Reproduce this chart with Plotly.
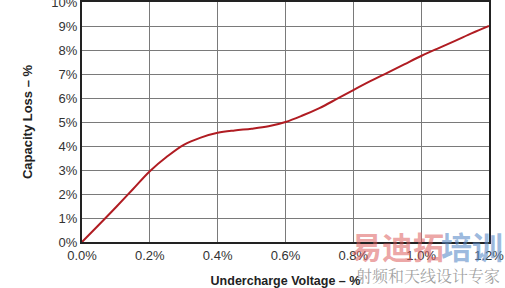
import plotly.graph_objects as go

# Data (percent units)
voltage = [0.0, 0.05, 0.1, 0.15, 0.2, 0.25, 0.3, 0.35, 0.4, 0.45, 0.5, 0.55, 0.6,
           0.65, 0.7, 0.75, 0.8, 0.85, 0.9, 0.95, 1.0, 1.05, 1.1, 1.15, 1.2]
capacity_loss = [0.0, 0.72, 1.45, 2.2, 2.95, 3.55, 4.05, 4.35, 4.55, 4.65, 4.72, 4.82, 5.0,
                 5.27, 5.58, 5.95, 6.33, 6.7, 7.05, 7.4, 7.75, 8.07, 8.38, 8.7, 9.0]
x_ticks = [0.0, 0.2, 0.4, 0.6, 0.8, 1.0, 1.2]
x_tick_labels = ["0.0%", "0.2%", "0.4%", "0.6%", "0.8%", "1.0%", "1.2%"]
y_ticks = list(range(0, 11))
y_tick_labels = [f"{v}%" for v in y_ticks]

fig = go.Figure()
fig.add_trace(go.Scatter(
    x=voltage, y=capacity_loss, mode="lines",
    line=dict(color="#b01c22", width=2, shape="spline", smoothing=1.0),
    showlegend=False, hoverinfo="skip"))

font_family = "Liberation Sans, Arial, sans-serif"
fig.update_layout(
    width=505, height=288,
    margin=dict(l=82, r=16, t=2, b=46, autoexpand=False),
    paper_bgcolor="white", plot_bgcolor="white",
    font=dict(family=font_family, size=13, color="#333333"),
)
fig.update_xaxes(
    range=[0, 1.2], tickvals=x_ticks, ticktext=x_tick_labels,
    showgrid=True, gridcolor="#7a7a7a", gridwidth=1,
    showline=True, linecolor="#222222", linewidth=2, mirror=True,
    zeroline=False, ticks="", ticklen=0, ticklabeloverflow="allow", automargin=False,
    tickfont=dict(size=13, color="#333333"),
    title=dict(text="<b>Undercharge Voltage – %</b>", font=dict(size=12.5, color="#222222"), standoff=16),
)
fig.update_yaxes(
    range=[0, 10], tickvals=y_ticks, ticktext=y_tick_labels,
    showgrid=True, gridcolor="#7a7a7a", gridwidth=1,
    showline=True, linecolor="#222222", linewidth=2, mirror=True,
    zeroline=False, ticks="", ticklen=0, ticklabeloverflow="allow", automargin=False,
    tickfont=dict(size=13, color="#333333"),
    title=dict(text="<b>Capacity Loss – %</b>", font=dict(size=13, color="#222222"), standoff=16),
)

# Watermark
fig.add_annotation(xref="paper", yref="paper", x=(397 - 82) / 407, y=-(245.5 - 242) / 240,
                   text="<b>易迪拓</b>", showarrow=False,
                   font=dict(family="Noto Sans CJK SC", size=31, color="rgba(220,90,90,0.55)"),
                   xanchor="center", yanchor="middle")
fig.add_annotation(xref="paper", yref="paper", x=(472 - 82) / 407, y=-(245.5 - 242) / 240,
                   text="<b>培训</b>", showarrow=False,
                   font=dict(family="Noto Sans CJK SC", size=31, color="rgba(90,140,200,0.6)"),
                   xanchor="center", yanchor="middle")
fig.add_annotation(xref="paper", yref="paper", x=(428 - 82) / 407, y=-(275 - 242) / 240,
                   text="射频和天线设计专家", showarrow=False,
                   font=dict(family="Noto Serif CJK SC, Noto Sans CJK SC", size=16, color="rgba(120,120,120,0.7)"),
                   xanchor="center", yanchor="middle")

fig.write_html("out.html")
